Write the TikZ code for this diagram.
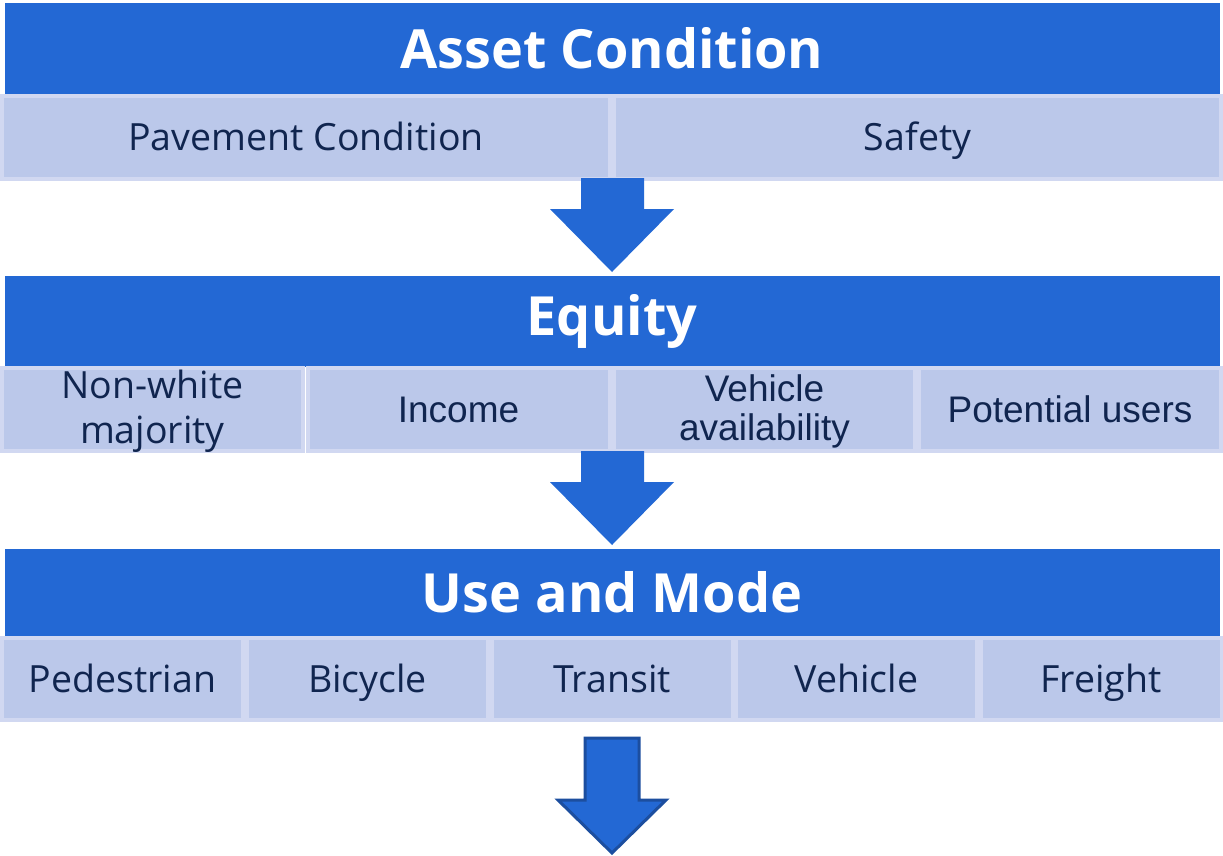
\documentclass[tikz,border=0pt]{standalone}
\usepackage{fontspec}
\setmainfont{Open Sans}
\newfontfamily\arialf{Liberation Sans}
\definecolor{hdrblue}{HTML}{2368D4}
\definecolor{cellfill}{HTML}{BBC8EA}
\definecolor{celledge}{HTML}{D1D8F1}
\definecolor{txtnavy}{HTML}{10254F}
\definecolor{arrowedge}{HTML}{1C4E9F}
\begin{document}
\begin{tikzpicture}[x=1pt,y=-1pt,
  hdr/.style={rectangle, fill=hdrblue, inner sep=0pt, text=white,
    font=\fontsize{54}{60}\selectfont\bfseries},
  cellbase/.style={rectangle, fill=cellfill, draw=celledge, line width=4pt, inner sep=0pt,
    text=txtnavy, align=center},
  cell/.style={cellbase, font=\fontsize{37.5}{45}\selectfont},
  onecell/.style={cell, text height=26.8pt, text depth=0pt},
  acell/.style={cellbase, font=\fontsize{37}{39}\selectfont\arialf},
  oneacell/.style={acell, text height=26.5pt, text depth=0pt},
  celltext/.style={inner sep=0pt, text=txtnavy, align=center, font=\fontsize{37.5}{45}\selectfont},
  acelltext/.style={inner sep=0pt, text=txtnavy, align=center, font=\fontsize{37}{39}\selectfont\arialf},
  blockarrow/.style={fill=hdrblue, draw=none},
  edgedarrow/.style={fill=hdrblue, draw=arrowedge, line width=3pt, line join=miter}]
\useasboundingbox (0,0) rectangle (1223,856);
\fill[white] (0,0) rectangle (1223,856);

% Row 1
\node[hdr, minimum width=1215pt, minimum height=91pt] (h1) at (612,48.5) {Asset Condition};
\node[onecell, minimum width=608pt, minimum height=83pt] (c11) at (306,137.5) {Pavement Condition};
\node[onecell, minimum width=607pt, minimum height=83pt] (c12) at (917.5,137.5) {Safety};

% Arrow 1
\path[blockarrow] (581,178) -- (644,178) -- (644,209) -- (674,209) -- (612,272) -- (550,209) -- (581,209) -- cycle;

% Row 2
\node[hdr, minimum width=1215pt, minimum height=91pt] (h2) at (612,321) {Equity};
\node[cell, minimum width=301pt, minimum height=83pt] (c21) at (152.5,409.5) {};
\node[celltext] (t21) at (152.5,411.5) {Non-white\\majority};
\node[oneacell, minimum width=302pt, minimum height=83pt] (c22) at (458.5,409.5) {Income};
\node[acell, minimum width=301pt, minimum height=83pt] (c23) at (764.5,409.5) {};
\node[acelltext] (t23) at (764.5,411.5) {Vehicle\\availability};
\node[oneacell, minimum width=302pt, minimum height=83pt] (c24) at (1070,409.5) {Potential users};

% Arrow 2
\path[blockarrow] (581,451) -- (644,451) -- (644,482) -- (674,482) -- (612,545) -- (550,482) -- (581,482) -- cycle;

% Row 3
\node[hdr, minimum width=1215pt, minimum height=88pt] (h3) at (612,592.5) {Use and Mode};
\node[onecell, minimum width=241pt, minimum height=82pt] (c31) at (122.5,679) {Pedestrian};
\node[onecell, minimum width=241pt, minimum height=82pt] (c32) at (367.5,679) {Bicycle};
\node[onecell, minimum width=241pt, minimum height=82pt] (c33) at (612,679) {Transit};
\node[onecell, minimum width=241pt, minimum height=82pt] (c34) at (856.5,679) {Vehicle};
\node[onecell, minimum width=241pt, minimum height=82pt] (c35) at (1101,679) {Freight};

% Arrow 3
\path[edgedarrow] (585,738) -- (639,738) -- (639,800) -- (666,800) -- (612,853) -- (558,800) -- (585,800) -- cycle;
\end{tikzpicture}
\end{document}
